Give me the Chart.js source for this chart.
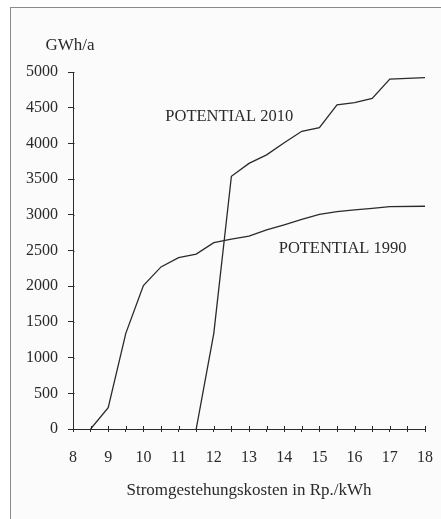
<!DOCTYPE html>
<html>
<head>
<meta charset="utf-8">
<script src="https://cdn.jsdelivr.net/npm/chart.js@4"></script>
<style>
    html, body { margin: 0; padding: 0; background: #fff; }
    body { width: 441px; height: 519px; position: relative; overflow: hidden; }
    #frame {
        position: absolute; left: 10px; top: 7px; width: 431px; height: 512px;
        border-left: 1.5px solid #8a8a8a; border-top: 1.5px solid #8a8a8a;
        background: #fbfbfc; box-sizing: border-box;
    }
    #wrap { position: absolute; left: 0; top: 0; width: 441px; height: 519px; }
</style>
</head>
<body>
<div id="frame"></div>
<div id="wrap"><canvas id="chart"></canvas></div>
<script>
// Stromgestehungskosten (Rp./kWh) vs potential (GWh/a)
const cost1990 = [8.5, 9, 9.5, 10, 10.5, 11, 11.5, 12, 12.5, 13, 13.5, 14, 14.5, 15, 15.5, 16, 16.5, 17, 18];
const potential1990 = [0, 300, 1340, 2010, 2270, 2400, 2450, 2610, 2660, 2700, 2790, 2860, 2935, 3005, 3045, 3070, 3090, 3115, 3120];

const cost2010 = [11.5, 12, 12.5, 13, 13.5, 14, 14.5, 15, 15.5, 16, 16.5, 17, 18];
const potential2010 = [0, 1340, 3540, 3720, 3840, 4010, 4170, 4220, 4540, 4570, 4630, 4900, 4920];

const seriesNames = ['POTENTIAL 1990', 'POTENTIAL 2010'];
const yUnit = 'GWh/a';
const xTitle = 'Stromgestehungskosten in Rp./kWh';

// where the in-plot series labels sit, in data units
const labelSpots = [
    { text: seriesNames[0], x: 15.66, y: 2530 },
    { text: seriesNames[1], x: 12.44, y: 4380 }
];

const FONT = '"Liberation Serif", "DejaVu Serif", serif';
const INK = '#2a2a2a';

const toPoints = (xs, ys) => xs.map((x, i) => ({ x: x, y: ys[i] }));

// short inward halves of the tick marks, so they cross the axis lines
const crossTicks = {
    id: 'crossTicks',
    afterDraw(chart) {
        const ctx = chart.ctx;
        const xs = chart.scales.x, ys = chart.scales.y;
        ctx.save();
        ctx.strokeStyle = INK;
        ctx.lineWidth = 1;
        ctx.beginPath();
        xs.ticks.forEach(t => {
            const px = Math.round(xs.getPixelForValue(t.value)) + 0.5;
            ctx.moveTo(px, ys.bottom);
            ctx.lineTo(px, ys.bottom - 3);
        });
        ys.ticks.forEach(t => {
            const py = Math.round(ys.getPixelForValue(t.value)) + 0.5;
            ctx.moveTo(xs.left, py);
            ctx.lineTo(xs.left + 1.5, py);
        });
        ctx.stroke();

        ctx.fillStyle = INK;
        ctx.textAlign = 'center';
        ctx.textBaseline = 'middle';
        ctx.font = '17px ' + FONT;
        ctx.fillText(yUnit, 70, 46);
        ctx.font = '16.5px ' + FONT;
        labelSpots.forEach(l => {
            ctx.fillText(l.text, xs.getPixelForValue(l.x), ys.getPixelForValue(l.y));
        });
        ctx.restore();
    }
};

new Chart(document.getElementById('chart').getContext('2d'), {
    type: 'line',
    data: {
        datasets: [{
            label: seriesNames[0],
            data: toPoints(cost1990, potential1990),
            borderColor: INK,
            borderWidth: 1.3,
            pointRadius: 0,
            tension: 0
        }, {
            label: seriesNames[1],
            data: toPoints(cost2010, potential2010),
            borderColor: INK,
            borderWidth: 1.3,
            pointRadius: 0,
            tension: 0
        }]
    },
    options: {
        responsive: true,
        maintainAspectRatio: false,
        animation: false,
        layout: { padding: { left: 0, right: 16, top: 72, bottom: 0 } },
        plugins: {
            legend: { display: false },
            tooltip: { enabled: false }
        },
        scales: {
            x: {
                type: 'linear',
                min: 8,
                max: 18,
                afterFit: s => { s.height = 90; s.paddingLeft = 0; s.paddingRight = 0; },
                border: { display: true, color: INK, width: 1 },
                grid: { drawOnChartArea: false, drawTicks: true, tickLength: 3, color: INK },
                ticks: {
                    stepSize: 0.5,
                    autoSkip: false,
                    maxRotation: 0,
                    padding: 16,
                    color: INK,
                    font: { family: FONT, size: 16 },
                    callback: v => Number.isInteger(v) ? String(v) : ''
                },
                title: {
                    display: true,
                    text: xTitle,
                    color: INK,
                    font: { family: FONT, size: 17 },
                    padding: { top: 0, bottom: 18 }
                }
            },
            y: {
                min: 0,
                max: 5000,
                afterFit: s => { s.width = 73; s.paddingTop = 0; s.paddingBottom = 0; },
                border: { display: true, color: INK, width: 1 },
                grid: { drawOnChartArea: false, drawTicks: true, tickLength: 5, color: INK },
                ticks: {
                    stepSize: 500,
                    padding: 10,
                    color: INK,
                    font: { family: FONT, size: 16 },
                    callback: v => String(v)
                }
            }
        }
    },
    plugins: [crossTicks]
});
</script>
</body>
</html>
